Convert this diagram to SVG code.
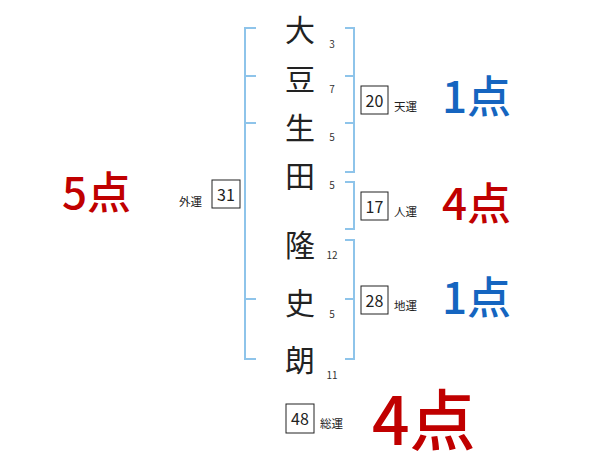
<svg xmlns="http://www.w3.org/2000/svg" width="600" height="470" viewBox="0 0 600 470">
<style>
.br{fill:none;stroke:#8ec4ea;stroke-width:2}
.nm{font-family:"Noto Sans CJK JP","Noto Sans",sans-serif;font-size:30px;fill:#222;text-anchor:middle;dominant-baseline:central}
.st{font-family:"Noto Sans CJK JP","Noto Sans",sans-serif;font-size:10px;fill:#333;text-anchor:middle;dominant-baseline:central}
.bx{fill:#fff;stroke:#222;stroke-width:1}
.bn{font-family:"Noto Sans CJK JP","Noto Sans",sans-serif;font-size:16px;fill:#222;text-anchor:middle;dominant-baseline:central}
.lb{font-family:"Noto Sans CJK JP","Noto Sans",sans-serif;font-size:11.5px;fill:#222;dominant-baseline:central}
.sc{font-family:"Noto Sans CJK JP","Noto Sans",sans-serif;font-size:44px;font-weight:500;dominant-baseline:central}
.blue{fill:#1565c0}
.red{fill:#c00000}
</style>
<rect width="600" height="470" fill="#fff"/>
<g id="connectors">
<path class="br" d="M256,28 H245 V359 H256 M245,76 H256 M245,123 H256 M245,299 H256"/>
<path class="br" d="M345,28 H354 V172 H345 M354,76 H345 M354,123 H345"/>
<path class="br" d="M345,182 H354 V229 H345"/>
<path class="br" d="M345,240 H354 V359 H345 M354,299 H345"/>
</g>
<g id="name">
<text class="nm" x="300" y="28">大</text>
<text class="nm" x="300" y="77">豆</text>
<text class="nm" x="300" y="126">生</text>
<text class="nm" x="300" y="174">田</text>
<text class="nm" x="300" y="243">隆</text>
<text class="nm" x="300" y="301">史</text>
<text class="nm" x="300" y="358">朗</text>
</g>
<g id="strokes">
<text class="st" x="332" y="43">3</text>
<text class="st" x="332" y="88">7</text>
<text class="st" x="332" y="136">5</text>
<text class="st" x="332" y="184">5</text>
<text class="st" x="332" y="254">12</text>
<text class="st" x="332" y="313">5</text>
<text class="st" x="332" y="374">11</text>
</g>
<g id="tenun">
<rect class="bx" x="361" y="86" width="27" height="28"/>
<text class="bn" x="374.5" y="100">20</text>
<text class="lb" x="394" y="106">天運</text>
<text class="sc blue" x="442" y="94">1点</text>
</g>
<g id="jinun">
<rect class="bx" x="361" y="192" width="27" height="28"/>
<text class="bn" x="374.5" y="206">17</text>
<text class="lb" x="394" y="211">人運</text>
<text class="sc red" x="442" y="201">4点</text>
</g>
<g id="chiun">
<rect class="bx" x="361" y="286" width="27" height="28"/>
<text class="bn" x="374.5" y="300">28</text>
<text class="lb" x="394" y="305">地運</text>
<text class="sc blue" x="442" y="295">1点</text>
</g>
<g id="gaiun">
<rect class="bx" x="212" y="180" width="28" height="28"/>
<text class="bn" x="226" y="194">31</text>
<text class="lb" x="179" y="201">外運</text>
<text class="sc red" x="62" y="190">5点</text>
</g>
<g id="soun">
<rect class="bx" x="286" y="404" width="28" height="29"/>
<text class="bn" x="300" y="418">48</text>
<text class="lb" x="320" y="423">総運</text>
<text class="sc red" x="372" y="416" style="font-size:66px">4点</text>
</g>
</svg>
